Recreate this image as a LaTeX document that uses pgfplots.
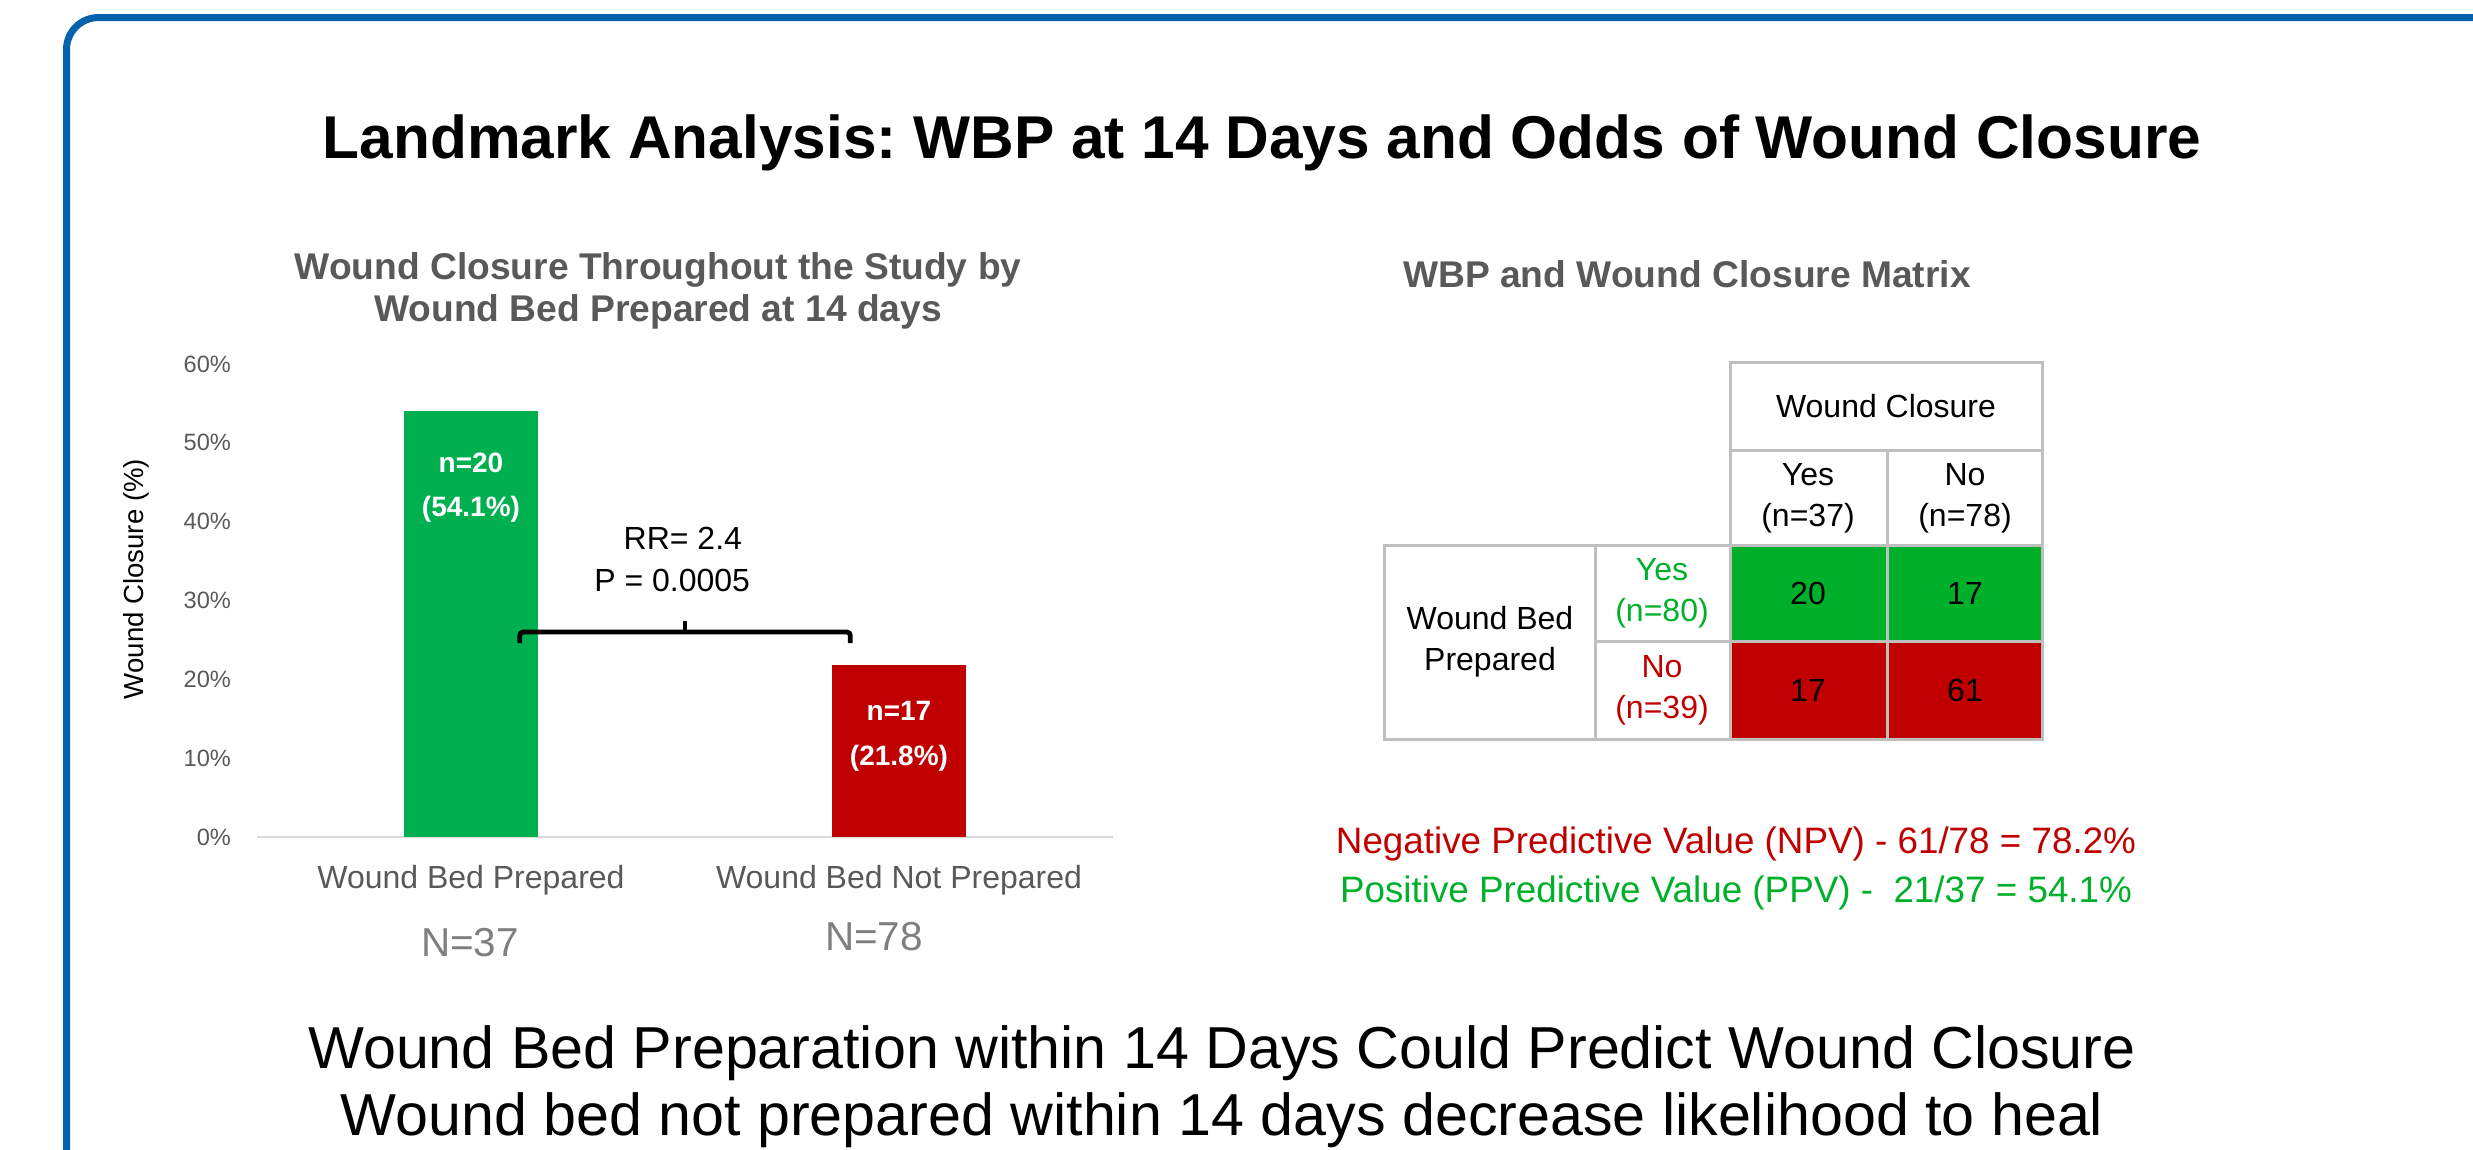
\documentclass[border=0pt]{standalone}
\usepackage{pgfplots}
\pgfplotsset{compat=1.18}
\usepackage{fontspec}
\setmainfont{Liberation Sans}
\frenchspacing
\definecolor{barG}{HTML}{00B050}
\definecolor{tabG}{HTML}{00B02A}
\definecolor{dred}{HTML}{C00000}
\definecolor{frameblue}{HTML}{0563AD}
\definecolor{txtgray}{HTML}{595959}
\definecolor{ngray}{HTML}{7F7F7F}
\definecolor{gridgray}{HTML}{BFBFBF}
\begin{document}
\begin{tikzpicture}
\begin{axis}[
  at={(64.25pt,-209.25pt)}, anchor=south west,
  scale only axis, width=214pt, height=118.25pt,
  xmin=-0.5, xmax=1.5, ymin=0, ymax=60,
  axis x line*=bottom, axis y line*=left,
  y axis line style={draw=none},
  x axis line style={draw=black!15, line width=0.5pt, -},
  major tick length=0pt, tick style={draw=none},
  xtick={0,1}, xticklabels={Wound Bed Prepared, Wound Bed Not Prepared},
  ytick={0,10,20,30,40,50,60}, yticklabels={0\%,10\%,20\%,30\%,40\%,50\%,60\%},
  xticklabel style={font=\fontsize{8}{9.6}\selectfont, text=txtgray, anchor=base, yshift=-12.75pt},
  yticklabel style={font=\fontsize{5.9}{7}\selectfont, text=txtgray, xshift=-3pt},
  clip=false,
]
\addplot[ybar, bar width=0.313, bar shift=0pt, fill=barG, draw=none] coordinates {(0,54.1)};
\addplot[ybar, bar width=0.313, bar shift=0pt, fill=dred, draw=none] coordinates {(1,21.8)};
\node[text=white, font=\bfseries\fontsize{7}{8}\selectfont] at (axis cs:0,47.5) {n=20};
\node[text=white, font=\bfseries\fontsize{7}{8}\selectfont] at (axis cs:0,41.6) {(54.1\%)};
\node[text=white, font=\bfseries\fontsize{7}{8}\selectfont] at (axis cs:1,16.0) {n=17};
\node[text=white, font=\bfseries\fontsize{7}{8}\selectfont] at (axis cs:1,10.0) {(21.8\%)};
\node[font=\fontsize{8}{9.6}\selectfont] at (axis cs:0.495,37.9) {RR= 2.4};
\node[font=\fontsize{8}{9.6}\selectfont] at (axis cs:0.47,32.6) {P = 0.0005};
\draw[line width=1.2pt, rounded corners=0.8pt] (axis cs:0.114,24.6) -- (axis cs:0.114,26) -- (axis cs:0.886,26) -- (axis cs:0.886,24.6);
\draw[line width=1.2pt] (axis cs:0.5,26) -- (axis cs:0.5,27.4);
\end{axis}
\begin{scope}[x=0.25pt,y=-0.25pt]
\useasboundingbox (0,0) rectangle (2473,1149);
\draw[frameblue, line width=1.75pt, rounded corners=8pt] (66.5,1170) -- (66.5,17.5) -- (2490,17.5);
% titles
\node[anchor=base, inner sep=0, font=\bfseries\fontsize{15.1}{18}\selectfont] at (1262,158) {Landmark Analysis: WBP at 14 Days and Odds of Wound Closure};
\node[anchor=base, inner sep=0, text=txtgray, font=\bfseries\fontsize{9.3}{11}\selectfont] at (658,279) {Wound Closure Throughout the Study by};
\node[anchor=base, inner sep=0, text=txtgray, font=\bfseries\fontsize{9.3}{11}\selectfont] at (658,321) {Wound Bed Prepared at 14 days};
\node[anchor=base, inner sep=0, text=txtgray, font=\bfseries\fontsize{9.3}{11}\selectfont] at (1687,287) {WBP and Wound Closure Matrix};
% y label
\node[rotate=90, inner sep=0, font=\fontsize{6.9}{8}\selectfont] at (136,579) {Wound Closure (\%)};
% N labels
\node[inner sep=0, text=ngray, font=\fontsize{10.1}{12}\selectfont] at (470,943) {N=37};
\node[inner sep=0, text=ngray, font=\fontsize{10.1}{12}\selectfont] at (874,937) {N=78};
% matrix
\fill[tabG] (1730,545) rectangle (2042,641);
\fill[dred] (1730,641) rectangle (2042,739);
\begin{scope}[draw=gridgray, line width=0.75pt]
\draw (1730,362) rectangle (2042,450);
\draw (1730,450) rectangle (1887,545);
\draw (1887,450) rectangle (2042,545);
\draw (1384,545) rectangle (1595,739);
\draw (1595,545) rectangle (1730,641);
\draw (1595,641) rectangle (1730,739);
\draw (1730,545) rectangle (1887,641);
\draw (1887,545) rectangle (2042,641);
\draw (1730,641) rectangle (1887,739);
\draw (1887,641) rectangle (2042,739);
\end{scope}
\begin{scope}[every node/.style={align=center, inner sep=0, font=\fontsize{8}{10.25}\selectfont}]
\node at (1886,406) {Wound Closure};
\node at (1808,498) {Yes\\(n=37)};
\node at (1965,498) {No\\(n=78)};
\node at (1490,642) {Wound Bed\\Prepared};
\node[text=tabG] at (1662,593) {Yes\\(n=80)};
\node[text=dred] at (1662,690) {No\\(n=39)};
\node at (1808,593) {20};
\node at (1965,593) {17};
\node at (1808,690) {17};
\node at (1965,690) {61};
\end{scope}
\node[anchor=base, inner sep=0, text=dred, font=\fontsize{9.2}{11}\selectfont] at (1736,853) {Negative Predictive Value (NPV) - 61/78 = 78.2\%};
\node[anchor=base, inner sep=0, text=tabG, font=\fontsize{9.2}{11}\selectfont] at (1736,902) {Positive Predictive Value (PPV) -\ \ 21/37 = 54.1\%};
\node[anchor=base, inner sep=0, font=\fontsize{14.8}{18}\selectfont] at (1222,1068) {Wound Bed Preparation within 14 Days Could Predict Wound Closure};
\node[anchor=base, inner sep=0, font=\fontsize{14.8}{18}\selectfont] at (1222,1135) {Wound bed not prepared within 14 days decrease likelihood to heal};
\end{scope}
\end{tikzpicture}
\end{document}
